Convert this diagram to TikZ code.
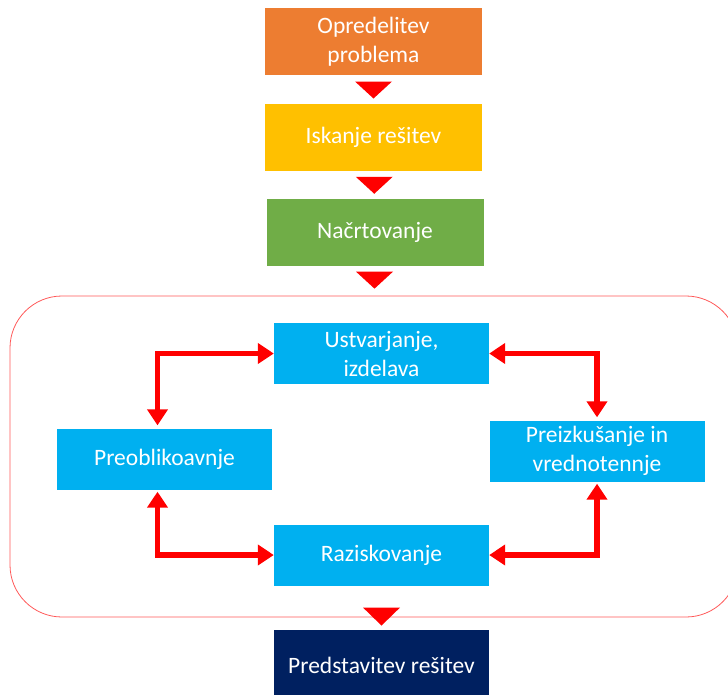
\documentclass[tikz,border=0pt]{standalone}
\usepackage{fontspec}
\setmainfont{Carlito}
\usetikzlibrary{arrows.meta,calc}
\definecolor{stepOrange}{HTML}{ED7D31}
\definecolor{stepYellow}{HTML}{FFC000}
\definecolor{stepGreen}{HTML}{70AD47}
\definecolor{stepBlue}{HTML}{00B0F0}
\definecolor{stepNavy}{HTML}{002060}
\tikzset{>=stealth,
    stepbox/.style={minimum width=217pt, minimum height=67pt, inner sep=2pt,
        text=white, align=center, font=\fontsize{23.5}{29}\selectfont},
    loopbox/.style={stepbox, fill=stepBlue, minimum width=215pt, minimum height=61pt},
    loopline/.style={red, line width=5.5pt,
        {Triangle[width=20pt,length=16pt]}-{Triangle[width=20pt,length=16pt]}},
}

\begin{document}
\begin{tikzpicture}[x=1pt,y=-1pt]
    \useasboundingbox (0,0) rectangle (728,694);
    % linear steps
    \node[stepbox, fill=stepOrange] (opr) at (373.5,41.5) {Opredelitev\\problema};
    \node[stepbox, fill=stepYellow] (isk) at (373.5,137.5) {Iskanje rešitev};
    \node[stepbox, fill=stepGreen] (nac) at (375,232) {Načrtovanje};
    % cycle frame
    \node[draw=red!65, line width=0.8pt, rounded corners=52pt, minimum width=728pt,
        minimum height=321pt] (frame) at (374,456.5) {};
    \node[loopbox] (ustv) at (381.5,353.5) {Ustvarjanje,\\izdelava};
    \node[loopbox] (preo) at (164.5,459) {Preoblikoavnje};
    \node[loopbox] (prei) at (597,451) {Preizkušanje in\\vrednotennje};
    \node[loopbox] (razi) at (381.5,555) {Raziskovanje};
    \node[stepbox, fill=stepNavy, minimum width=215pt, minimum height=70pt] (pred)
        at (381.5,665) {Predstavitev rešitev};
    % triangles between steps
    \foreach \a/\b in {opr/isk, isk/nac} {
        \fill[red] ($(\a.south)!0.5!(\b.north)$) +(-18.5,-8) -- +(18.5,-8) -- +(0,9) -- cycle;
    }
    \fill[red] ($(nac.south)!0.5!(frame.north)$) +(-18.5,-9) -- +(18.5,-9) -- +(0,8) -- cycle;
    \fill[red] ($(razi.south)!0.7!(pred.north)$) +(-18.5,-9) -- +(18.5,-9) -- +(0,9) -- cycle;
    % loop arrows
    \draw[loopline, shorten >=3pt] (ustv.west) -| ([xshift=-7pt]preo.north);
    \draw[loopline, shorten >=3pt] (ustv.east) -| (prei.north);
    \draw[loopline, shorten >=2pt] (razi.west) -| ([xshift=-7pt]preo.south);
    \draw[loopline, shorten >=2pt] (razi.east) -| (prei.south);
\end{tikzpicture}
\end{document}
